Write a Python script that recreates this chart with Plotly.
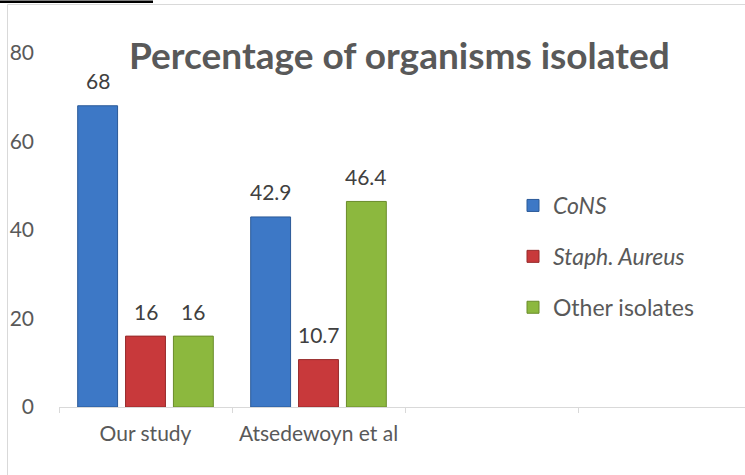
import plotly.graph_objects as go

categories = ["Our study", "Atsedewoyn et al", " ", "  "]
series_names = ["<i>CoNS</i>", "<i>Staph. Aureus</i>", "Other isolates"]
cons = [68, 42.9, None, None]
staph = [16, 10.7, None, None]
other = [16, 46.4, None, None]
label_text = [["68", "42.9"], ["16", "10.7"], ["16", "46.4"]]
y_ticks = [0, 20, 40, 60, 80]

W, H = 745, 475
ML, MR, MT, MB = 59, 0, 40, 68
px_per_unit = 4.43
plot_h = H - MT - MB
plot_w = W - ML - MR
cat_px = 173.0

colors = ["#3d78c6", "#c8393b", "#8cb83e"]
edges = ["#2b5a98", "#962a2a", "#6a8c2a"]
font = "Lato, 'Open Sans', sans-serif"
fs = 21

fig = go.Figure()
for i, (name, vals) in enumerate(zip(series_names, [cons, staph, other])):
    fig.add_trace(go.Bar(
        x=categories, y=vals, name=name,
        marker=dict(color=colors[i], line=dict(color=edges[i], width=1)),
        legendgroup=f"g{i}",
    ))

slot = (1 - 0.17) / 3
annotations = []
for i, vals in enumerate([cons, staph, other]):
    for j, v in enumerate(vals):
        if v is None:
            continue
        annotations.append(dict(
            x=j + (i - 1) * slot, y=v, xref="x", yref="y",
            text=label_text[i][j], showarrow=False, yshift=25,
            font=dict(family=font, size=fs, color="#404040"),
        ))

def px_x(p):
    return (p - ML) / plot_w

def px_y(p):
    return (H - MB - p) / plot_h

annotations.append(dict(
    x=px_x(399), y=px_y(54), xref="paper", yref="paper",
    text="<b>Percentage of organisms isolated</b>", showarrow=False,
    font=dict(family=font, size=37, color="#595959"),
    xanchor="center", yanchor="middle",
))

shapes = [
    dict(type="line", xref="paper", yref="paper", x0=px_x(7.5), x1=px_x(750),
         y0=px_y(4.5), y1=px_y(4.5), line=dict(color="#d9d9d9", width=1)),
    dict(type="line", xref="paper", yref="paper", x0=px_x(7.5), x1=px_x(7.5),
         y0=px_y(4.5), y1=px_y(480), line=dict(color="#d9d9d9", width=1)),
    dict(type="line", xref="paper", yref="paper", x0=px_x(0), x1=px_x(153),
         y0=px_y(1.8), y1=px_y(1.8), line=dict(color="#000000", width=2.5)),
]

fig.update_layout(
    width=W, height=H,
    margin=dict(l=ML, r=MR, t=MT, b=MB, autoexpand=False),
    paper_bgcolor="white", plot_bgcolor="white",
    barmode="group", bargap=0.17, bargroupgap=0.167,
    showlegend=True,
    legend=dict(
        x=px_x(513), y=px_y(184), xanchor="left", yanchor="top",
        font=dict(family=font, size=23, color="#595959"),
        traceorder="grouped", tracegroupgap=18,
        bgcolor="rgba(0,0,0,0)", itemwidth=30,
    ),
    annotations=annotations,
    shapes=shapes,
    font=dict(family=font, color="#595959"),
)
fig.update_xaxes(
    categoryorder="array", categoryarray=categories,
    range=[-0.5, 3.5 - (ML + 4 * cat_px - W) / cat_px],
    showline=True, linecolor="#d9d9d9", linewidth=1,
    ticks="outside", tickson="boundaries", ticklen=5, tickcolor="#d9d9d9",
    showgrid=False, zeroline=False, automargin=False,
    tickfont=dict(family=font, size=fs, color="#595959"),
    ticklabelstandoff=8,
)
fig.update_yaxes(
    range=[0, plot_h / px_per_unit],
    tickvals=y_ticks, ticktext=[str(t) for t in y_ticks],
    showgrid=False, zeroline=False, showline=False, automargin=False,
    tickfont=dict(family=font, size=fs, color="#595959"),
    ticks="", ticklabelstandoff=24,
)

fig.write_html(
    "out.html",
    config={"displayModeBar": False},
    post_script="document.body.style.margin='0';document.body.style.overflow='hidden';",
)
